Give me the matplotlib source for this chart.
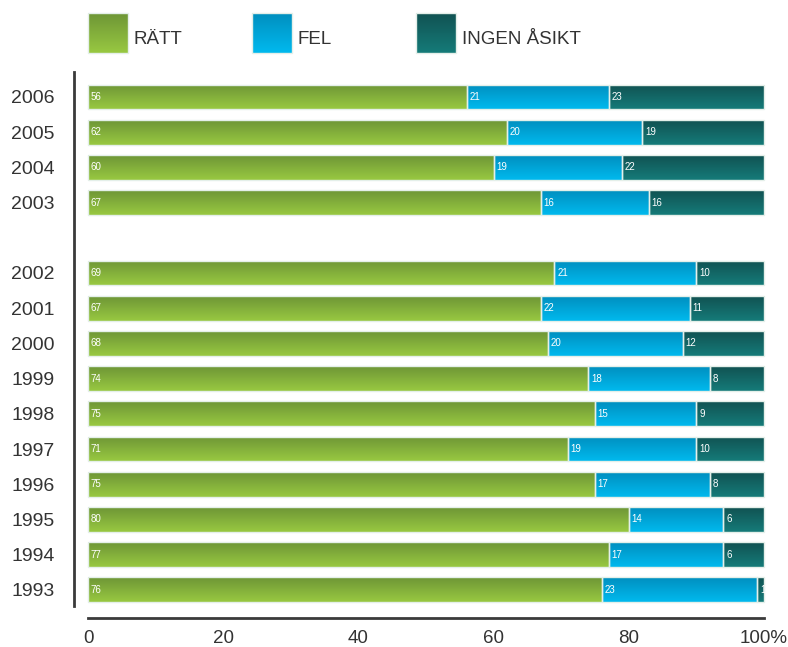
import matplotlib.pyplot as plt
from matplotlib.colors import LinearSegmentedColormap
from matplotlib.patches import Rectangle
import numpy as np

plt.rcParams['font.family'] = ['Liberation Sans', 'DejaVu Sans']

# data (percent)
years = ['2006', '2005', '2004', '2003', '2002', '2001', '2000',
         '1999', '1998', '1997', '1996', '1995', '1994', '1993']
ratt = [56, 62, 60, 67, 69, 67, 68, 74, 75, 71, 75, 80, 77, 76]
fel = [21, 20, 19, 16, 21, 22, 20, 18, 15, 19, 17, 14, 17, 23]
ingen = [23, 19, 22, 16, 10, 11, 12, 8, 9, 10, 8, 6, 6, 1]
series_names = ['RÄTT', 'FEL', 'INGEN ÅSIKT']
x_ticks = [0, 20, 40, 60, 80, 100]
x_ticklabels = ['0', '20', '40', '60', '80', '100%']

# gradient colours (top, bottom)
grads = [('#6e9636', '#98c841'),
         ('#008fbf', '#00b9ee'),
         ('#115252', '#157b79')]
cmaps = [LinearSegmentedColormap.from_list('g%d' % i, g) for i, g in enumerate(grads)]
grad_img = np.linspace(0, 1, 64).reshape(-1, 1)

# slot positions: an empty slot between 2003 and 2002
ypos = [0, 1, 2, 3, 5, 6, 7, 8, 9, 10, 11, 12, 13, 14]
bar_h = 0.7

fig = plt.figure(figsize=(7.88, 6.47), dpi=100)
W, H = 788, 647
ax = fig.add_axes([88 / W, (H - 606) / H, (764 - 88) / W, (606 - 72) / H])


def gradient_rect(axis, x0, y0, w, h, cmap, clip=True):
    # border rectangle + gradient image clipped to it
    rect = Rectangle((x0, y0), w, h, fill=False, edgecolor='#e4efe9',
                     linewidth=1.0, zorder=3, clip_on=clip)
    axis.add_patch(rect)
    im = axis.imshow(grad_img, extent=[x0, x0 + w, y0 + h, y0], origin='upper',
                     aspect='auto', cmap=cmap, interpolation='bilinear', zorder=2)
    im.set_clip_path(rect)
    return rect


for k in range(len(years)):
    y = ypos[k]
    vals = [ratt[k], fel[k], ingen[k]]
    left = 0
    for s in range(3):
        # last segment fills the bar up to 100 %
        w = vals[s] if s < 2 else 100 - left
        gradient_rect(ax, left, y - bar_h / 2, w, bar_h, cmaps[s], clip=False)
        ax.text(left + 0.4, y, str(vals[s]), color='white', fontsize=7,
                ha='left', va='center', zorder=4)
        left += w

ax.set_xlim(0, 100)
ax.set_ylim(14.46, -0.71)
ax.set_yticks(ypos)
ax.set_yticklabels(years)
ax.set_xticks(x_ticks)
ax.set_xticklabels(x_ticklabels)
ax.tick_params(axis='both', length=0, labelsize=14, labelcolor='#333333')
ax.tick_params(axis='x', labelsize=13.5, pad=9)
ax.tick_params(axis='y', pad=14)
for side in ['top', 'right']:
    ax.spines[side].set_visible(False)
for side in ['left', 'bottom']:
    ax.spines[side].set_color('#3a3a3a')
    ax.spines[side].set_linewidth(2)
ax.spines['left'].set_position(('outward', 10))
ax.spines['bottom'].set_position(('outward', 8.6))

# legend drawn in pixel coordinates
lax = fig.add_axes([0, 0, 1, 1], zorder=5)
lax.set_xlim(0, W)
lax.set_ylim(H, 0)
lax.axis('off')
lx = [88, 252, 416]
for s in range(3):
    gradient_rect(lax, lx[s], 13, 40, 40, cmaps[s])
    lax.text(lx[s] + 46, 40, series_names[s], fontsize=13.5, color='#333333',
             ha='left', va='center')
lax.set_xlim(0, W)
lax.set_ylim(H, 0)

fig.savefig('out.png', dpi=100)
